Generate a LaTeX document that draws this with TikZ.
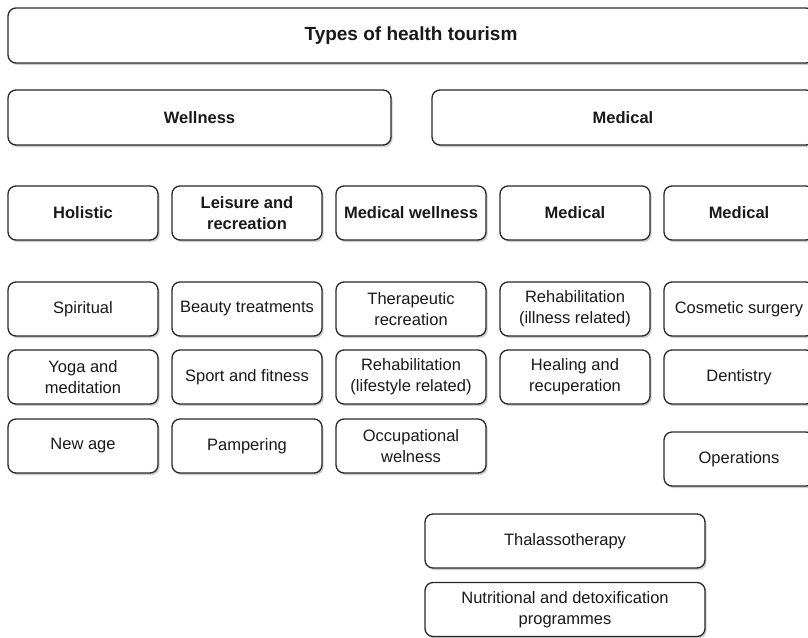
\documentclass[tikz,border=0pt]{standalone}
\usepackage{fontspec}
\setmainfont{Liberation Sans}
\usetikzlibrary{shadows}
\definecolor{boxline}{RGB}{40,40,40}
\definecolor{boxtext}{RGB}{25,25,25}

\begin{document}
\begin{tikzpicture}[x=1pt, y=-1pt,
    box/.style={draw=boxline, line width=1.3pt, fill=white, rounded corners=8pt,
        drop shadow={shadow xshift=1.6pt, shadow yshift=-2pt, fill=black!40},
        align=center, text=boxtext, inner sep=0pt,
        font=\fontsize{16.5}{21}\selectfont},
    head/.style={box, font=\fontsize{16.5}{21}\selectfont\bfseries},
    colbox/.style={minimum width=150pt, minimum height=54pt}]
    \useasboundingbox (0,0) rectangle (808,637);
    \clip (0,0) rectangle (808,637);
    % Title
    \node[head, minimum width=806pt, minimum height=55pt, font=\fontsize{19}{23}\selectfont\bfseries] (types) at (411, 35.5) {Types of health tourism};
    % Main groups
    \node[head, minimum width=383pt, minimum height=55pt] (wellness) at (199.5, 117.5) {Wellness};
    \node[head, minimum width=382pt, minimum height=55pt] (medical) at (623, 117.5) {Medical};
    % Sub groups
    \node[head, colbox] (holistic) at (83, 213) {Holistic};
    \node[head, colbox] (leisure) at (247, 213) {Leisure and\\ recreation};
    \node[head, colbox] (medwell) at (411, 213) {Medical wellness};
    \node[head, colbox] (medicalA) at (575, 213) {Medical};
    \node[head, colbox] (medicalB) at (739, 213) {Medical};
    % Holistic
    \node[box, colbox] (spiritual) at (83, 309) {Spiritual};
    \node[box, colbox] (yoga) at (83, 377) {Yoga and\\ meditation};
    \node[box, colbox] (newage) at (83, 446) {New age};
    % Leisure and recreation
    \node[box, colbox] (beauty) at (247, 309) {Beauty treatments};
    \node[box, colbox] (sport) at (247, 377) {Sport and fitness};
    \node[box, colbox] (pampering) at (247, 446) {Pampering};
    % Medical wellness
    \node[box, colbox] (therapeutic) at (411, 309) {Therapeutic\\ recreation};
    \node[box, colbox] (rehablife) at (411, 377) {Rehabilitation\\ (lifestyle related)};
    \node[box, colbox] (occupational) at (411, 446) {Occupational\\ welness};
    % Medical
    \node[box, colbox] (rehabill) at (575, 309) {Rehabilitation\\ (illness related)};
    \node[box, colbox] (healing) at (575, 377) {Healing and\\ recuperation};
    % Medical (surgery)
    \node[box, colbox] (cosmetic) at (739, 309) {Cosmetic surgery};
    \node[box, colbox] (dentistry) at (739, 377) {Dentistry};
    \node[box, colbox] (operations) at (739, 459) {Operations};
    % Bottom boxes
    \node[box, minimum width=280pt, minimum height=54pt] (thalasso) at (565, 541) {Thalassotherapy};
    \node[box, minimum width=280pt, minimum height=54pt] (nutrition) at (565, 609.5) {Nutritional and detoxification\\ programmes};
\end{tikzpicture}
\end{document}
